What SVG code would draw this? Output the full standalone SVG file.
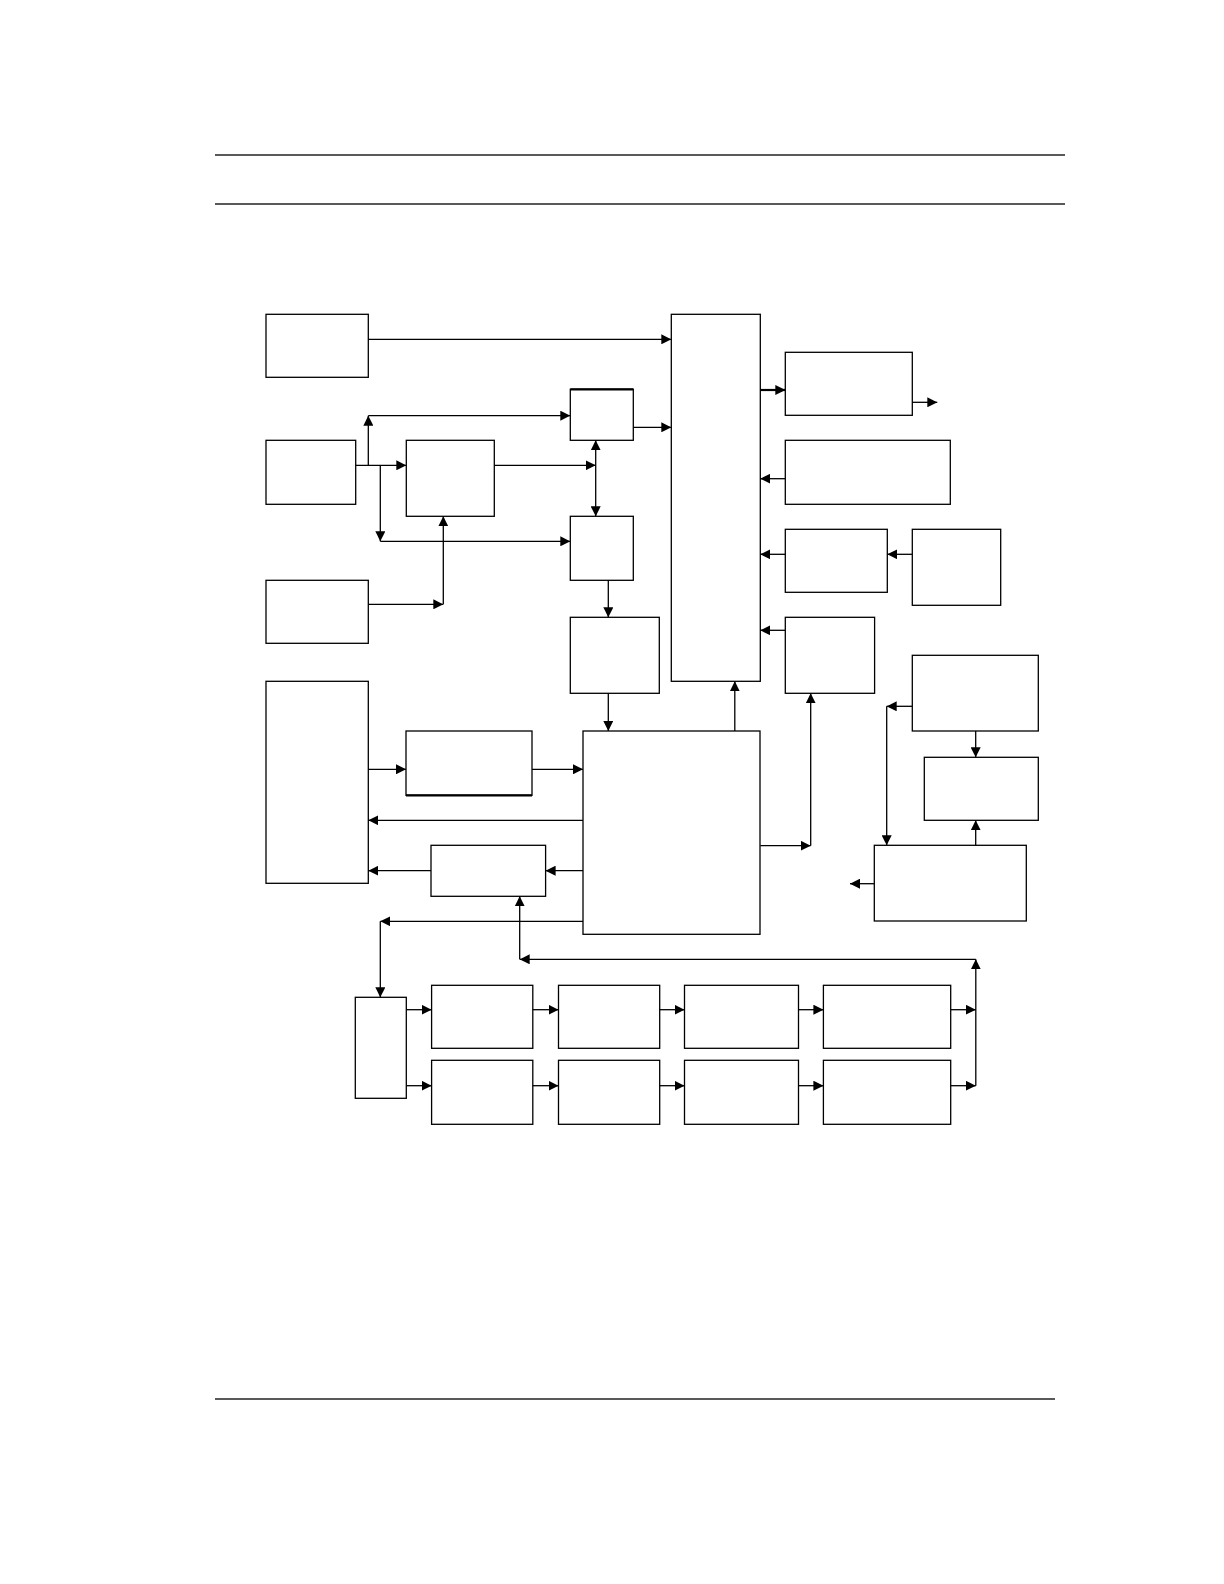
<svg xmlns="http://www.w3.org/2000/svg" width="1224" height="1584" viewBox="0 0 1224 1584">
<defs>
<marker id="ah" viewBox="0 0 10 10" refX="10" refY="5" markerWidth="10" markerHeight="10" markerUnits="userSpaceOnUse" orient="auto-start-reverse">
<path d="M0,0 L10,5 L0,10 z" fill="#000"/>
</marker>
<style>
.n{fill:#fff;stroke:#000;stroke-width:1.3}
.c line{stroke:#000;stroke-width:1.3;fill:none}
.a{marker-end:url(#ah)}
.rule{stroke:#222;stroke-width:1.3}
</style>
</defs>
<rect width="1224" height="1584" fill="#fff"/>
<g id="rules">
<line class="rule" x1="215" y1="155" x2="1065" y2="155"/>
<line class="rule" x1="215" y1="204" x2="1065" y2="204"/>
<line class="rule" x1="215" y1="1399" x2="1055" y2="1399"/>
</g>
<g id="nA"><rect class="n" x="266" y="314.3" width="102.3" height="63"/></g>
<g id="nB"><rect class="n" x="266" y="440.3" width="89.7" height="64"/></g>
<g id="nC"><rect class="n" x="406.3" y="440.3" width="88" height="76"/></g>
<g id="nD"><rect class="n" x="570.3" y="389.3" width="63" height="51"/><line x1="570.3" y1="389.3" x2="633.3" y2="389.3" stroke="#000" stroke-width="2.2"/></g>
<g id="nE"><rect class="n" x="570.3" y="516.3" width="63" height="64"/></g>
<g id="nF"><rect class="n" x="266" y="580.3" width="102.3" height="63"/></g>
<g id="nG"><rect class="n" x="570.3" y="617.3" width="89" height="76"/></g>
<g id="nH"><rect class="n" x="671.3" y="314.3" width="89" height="367"/></g>
<g id="nI"><rect class="n" x="785.3" y="352.3" width="127" height="63"/></g>
<g id="nJ"><rect class="n" x="785.3" y="440.3" width="165" height="64"/></g>
<g id="nK"><rect class="n" x="785.3" y="529.3" width="102" height="63"/></g>
<g id="nL"><rect class="n" x="912.3" y="529.3" width="88.4" height="76"/></g>
<g id="nM"><rect class="n" x="785.3" y="617.3" width="89.3" height="76"/></g>
<g id="nN"><rect class="n" x="266" y="681.3" width="102.3" height="202"/></g>
<g id="nO"><rect class="n" x="406" y="731" width="126" height="64.3"/><line x1="406" y1="795.3" x2="532" y2="795.3" stroke="#000" stroke-width="2.2"/></g>
<g id="nP"><rect class="n" x="583" y="731" width="177" height="203.3"/></g>
<g id="nQ"><rect class="n" x="431" y="845.3" width="114.6" height="51"/></g>
<g id="nS"><rect class="n" x="912.3" y="655.3" width="126" height="75.7"/></g>
<g id="nU"><rect class="n" x="924.3" y="757.3" width="114" height="63"/></g>
<g id="nT"><rect class="n" x="874.3" y="845.3" width="152" height="75.7"/></g>
<g id="nR"><rect class="n" x="355.3" y="997.3" width="51" height="101"/></g>
<g id="r1a"><rect class="n" x="431.6" y="985.3" width="101.2" height="63"/></g>
<g id="r1b"><rect class="n" x="558.5" y="985.3" width="101.2" height="63"/></g>
<g id="r1c"><rect class="n" x="684.5" y="985.3" width="114" height="63"/></g>
<g id="r1d"><rect class="n" x="823.4" y="985.3" width="127.3" height="63"/></g>
<g id="r2a"><rect class="n" x="431.6" y="1060.3" width="101.2" height="64"/></g>
<g id="r2b"><rect class="n" x="558.5" y="1060.3" width="101.2" height="64"/></g>
<g id="r2c"><rect class="n" x="684.5" y="1060.3" width="114" height="64"/></g>
<g id="r2d"><rect class="n" x="823.4" y="1060.3" width="127.3" height="64"/></g>
<g id="connectors" class="c">
<line class="a" x1="368.3" y1="339.3" x2="671.3" y2="339.3"/>
<line class="a" x1="355.7" y1="465.3" x2="406.3" y2="465.3"/>
<line class="a" x1="368.3" y1="465.3" x2="368.3" y2="415.7"/>
<line class="a" x1="368.3" y1="415.7" x2="570.3" y2="415.7"/>
<line class="a" x1="380.3" y1="465.3" x2="380.3" y2="541.3"/>
<line class="a" x1="380.3" y1="541.3" x2="570.3" y2="541.3"/>
<line class="a" x1="494.3" y1="465.3" x2="595.7" y2="465.3"/>
<line x1="595.7" y1="440.3" x2="595.7" y2="516.3" marker-start="url(#ah)" marker-end="url(#ah)"/>
<line class="a" x1="633.3" y1="427.3" x2="671.3" y2="427.3"/>
<line class="a" x1="368.3" y1="604.3" x2="443.3" y2="604.3"/>
<line class="a" x1="443.3" y1="604.3" x2="443.3" y2="516.3"/>
<line class="a" x1="608.3" y1="580.3" x2="608.3" y2="617.3"/>
<line class="a" x1="760.3" y1="390" x2="785.3" y2="390" style="stroke-width:2.2"/>
<line class="a" x1="912.3" y1="402.3" x2="937.3" y2="402.3"/>
<line class="a" x1="785.3" y1="478.7" x2="760.3" y2="478.7"/>
<line class="a" x1="785.3" y1="554.3" x2="760.3" y2="554.3"/>
<line class="a" x1="912.3" y1="554.3" x2="887.3" y2="554.3"/>
<line class="a" x1="785.3" y1="630.3" x2="760.3" y2="630.3"/>
<line class="a" x1="608.3" y1="693.3" x2="608.3" y2="731"/>
<line class="a" x1="734.8" y1="731" x2="734.8" y2="681.3"/>
<line class="a" x1="368.3" y1="769.3" x2="406" y2="769.3"/>
<line class="a" x1="532" y1="769.3" x2="583" y2="769.3"/>
<line class="a" x1="583" y1="820.3" x2="368.3" y2="820.3"/>
<line class="a" x1="583" y1="870.7" x2="545.6" y2="870.7"/>
<line class="a" x1="431" y1="870.7" x2="368.3" y2="870.7"/>
<line class="a" x1="583" y1="921.3" x2="380.3" y2="921.3"/>
<line class="a" x1="380.3" y1="921.3" x2="380.3" y2="997.3"/>
<line class="a" x1="760.3" y1="845.7" x2="810.7" y2="845.7"/>
<line class="a" x1="810.7" y1="845.7" x2="810.7" y2="693.3"/>
<line class="a" x1="912.3" y1="706.3" x2="886.7" y2="706.3"/>
<line class="a" x1="886.7" y1="706.3" x2="886.7" y2="845.3"/>
<line class="a" x1="975.7" y1="731" x2="975.7" y2="757.3"/>
<line class="a" x1="975.7" y1="845.3" x2="975.7" y2="820.3"/>
<line class="a" x1="874.3" y1="883.7" x2="850" y2="883.7"/>
<line class="a" x1="406.3" y1="1009.7" x2="431.6" y2="1009.7"/>
<line class="a" x1="532.8" y1="1009.7" x2="558.5" y2="1009.7"/>
<line class="a" x1="659.7" y1="1009.7" x2="684.5" y2="1009.7"/>
<line class="a" x1="798.5" y1="1009.7" x2="823.4" y2="1009.7"/>
<line class="a" x1="950.7" y1="1009.7" x2="975.8" y2="1009.7"/>
<line class="a" x1="406.3" y1="1085.7" x2="431.6" y2="1085.7"/>
<line class="a" x1="532.8" y1="1085.7" x2="558.5" y2="1085.7"/>
<line class="a" x1="659.7" y1="1085.7" x2="684.5" y2="1085.7"/>
<line class="a" x1="798.5" y1="1085.7" x2="823.4" y2="1085.7"/>
<line class="a" x1="950.7" y1="1085.7" x2="975.8" y2="1085.7"/>
<line class="a" x1="975.8" y1="1085.7" x2="975.8" y2="959.3"/>
<line class="a" x1="975.8" y1="959.3" x2="519.7" y2="959.3"/>
<line class="a" x1="519.7" y1="959.3" x2="519.7" y2="896.3"/>
</g>
</svg>
